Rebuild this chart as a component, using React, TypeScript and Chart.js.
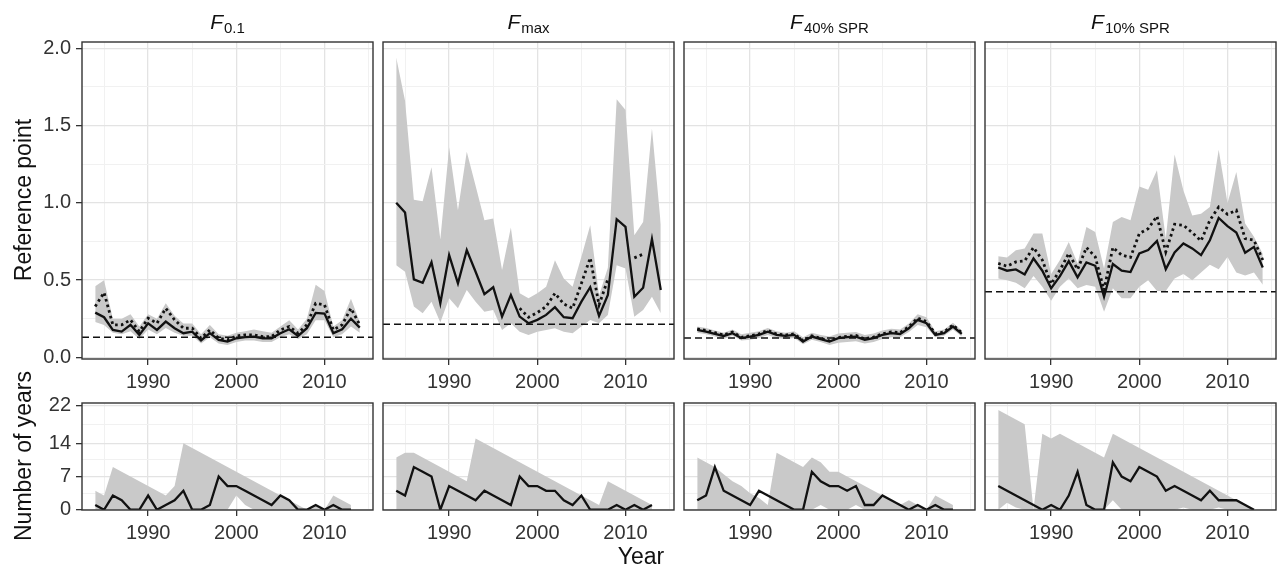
import React, { useEffect, useRef } from 'react';
import { Chart, registerables } from 'chart.js';

Chart.register(...registerables);

// ---------------- DATA ----------------
const YEARS = [1984, 1985, 1986, 1987, 1988, 1989, 1990, 1991, 1992, 1993, 1994, 1995, 1996, 1997, 1998, 1999, 2000, 2001, 2002, 2003, 2004, 2005, 2006, 2007, 2008, 2009, 2010, 2011, 2012, 2013, 2014];

const PANEL_TITLES = ['0.1', 'max', '40% SPR', '10% SPR'];

// Top row: reference point estimates
const F01_EST = [0.29, 0.26, 0.178, 0.167, 0.211, 0.146, 0.221, 0.178, 0.232, 0.189, 0.157, 0.167, 0.11, 0.157, 0.114, 0.103, 0.124, 0.131, 0.135, 0.124, 0.124, 0.157, 0.182, 0.139, 0.189, 0.288, 0.284, 0.157, 0.182, 0.251, 0.193];
const F01_ALT = [0.33, 0.42, 0.211, 0.211, 0.243, 0.167, 0.254, 0.221, 0.318, 0.243, 0.189, 0.189, 0.124, 0.178, 0.124, 0.114, 0.139, 0.146, 0.146, 0.135, 0.135, 0.178, 0.2, 0.157, 0.211, 0.35, 0.34, 0.178, 0.211, 0.318, 0.211];
const F01_HI = [0.46, 0.5, 0.25, 0.25, 0.28, 0.2, 0.28, 0.25, 0.35, 0.27, 0.22, 0.22, 0.15, 0.21, 0.15, 0.14, 0.16, 0.17, 0.18, 0.17, 0.16, 0.2, 0.24, 0.18, 0.25, 0.47, 0.43, 0.2, 0.24, 0.38, 0.23];
const F01_LO = [0.23, 0.21, 0.16, 0.15, 0.17, 0.12, 0.18, 0.15, 0.19, 0.16, 0.14, 0.14, 0.09, 0.13, 0.09, 0.08, 0.1, 0.11, 0.11, 0.1, 0.1, 0.13, 0.15, 0.12, 0.15, 0.24, 0.24, 0.13, 0.15, 0.2, 0.16];

const FMAX_EST = [1.0, 0.937, 0.505, 0.483, 0.615, 0.35, 0.662, 0.479, 0.694, 0.554, 0.41, 0.454, 0.264, 0.404, 0.264, 0.221, 0.243, 0.275, 0.325, 0.26, 0.254, 0.361, 0.454, 0.269, 0.404, 0.894, 0.844, 0.393, 0.451, 0.765, 0.436];
const FMAX_ALT = [null, null, null, null, null, null, null, null, null, null, null, null, null, null, 0.318, 0.26, 0.29, 0.329, 0.415, 0.346, 0.318, 0.479, 0.644, 0.34, 0.505, null, null, 0.644, 0.668, null, null];
const FMAX_HI = [1.94, 1.66, 1.02, 1.01, 1.23, 0.763, 1.36, 0.952, 1.33, 1.11, 0.887, 0.898, 0.565, 0.84, 0.415, 0.383, 0.415, 0.457, 0.629, 0.511, 0.457, 0.651, 0.855, 0.4, 0.58, 1.67, 1.6, 0.79, 0.876, 1.48, 0.86];
const FMAX_LO = [0.597, 0.554, 0.329, 0.286, 0.361, 0.226, 0.383, 0.318, 0.436, 0.361, 0.296, 0.307, 0.178, 0.221, 0.167, 0.146, 0.167, 0.178, 0.189, 0.167, 0.157, 0.2, 0.243, 0.221, 0.275, 0.597, 0.576, 0.264, 0.307, 0.393, 0.286];

const F40_EST = [0.178, 0.167, 0.152, 0.139, 0.157, 0.125, 0.135, 0.146, 0.167, 0.146, 0.139, 0.146, 0.103, 0.135, 0.118, 0.103, 0.125, 0.131, 0.135, 0.114, 0.125, 0.146, 0.157, 0.152, 0.189, 0.243, 0.221, 0.146, 0.157, 0.2, 0.152];
const F40_ALT = [0.185, 0.175, 0.16, 0.145, 0.165, 0.13, 0.14, 0.152, 0.175, 0.152, 0.145, 0.152, 0.108, 0.14, 0.123, 0.108, 0.13, 0.137, 0.142, 0.12, 0.132, 0.153, 0.165, 0.16, 0.198, 0.255, 0.232, 0.153, 0.165, 0.21, 0.16];
const F40_HI = [0.2, 0.19, 0.175, 0.16, 0.18, 0.15, 0.16, 0.17, 0.19, 0.17, 0.16, 0.17, 0.13, 0.16, 0.145, 0.135, 0.155, 0.16, 0.165, 0.145, 0.155, 0.175, 0.185, 0.18, 0.22, 0.28, 0.26, 0.17, 0.18, 0.225, 0.175];
const F40_LO = [0.16, 0.15, 0.135, 0.12, 0.14, 0.11, 0.115, 0.125, 0.145, 0.125, 0.12, 0.125, 0.085, 0.115, 0.1, 0.08, 0.095, 0.1, 0.105, 0.09, 0.1, 0.12, 0.13, 0.13, 0.165, 0.21, 0.195, 0.13, 0.14, 0.18, 0.135];

const F10_EST = [0.582, 0.561, 0.569, 0.537, 0.64, 0.561, 0.447, 0.526, 0.623, 0.518, 0.615, 0.593, 0.393, 0.604, 0.561, 0.552, 0.673, 0.694, 0.754, 0.571, 0.679, 0.737, 0.705, 0.662, 0.758, 0.902, 0.849, 0.808, 0.677, 0.715, 0.582];
const F10_ALT = [0.608, 0.59, 0.618, 0.625, 0.711, 0.63, 0.475, 0.565, 0.673, 0.569, 0.711, 0.651, 0.436, 0.711, 0.662, 0.647, 0.801, 0.833, 0.913, 0.683, 0.861, 0.855, 0.807, 0.754, 0.887, 0.973, 0.926, 0.952, 0.769, 0.758, 0.63];
const F10_HI = [0.655, 0.647, 0.694, 0.705, 0.801, 0.801, 0.54, 0.63, 0.746, 0.608, 0.844, 0.812, 0.575, 0.876, 0.908, 0.887, 1.106, 1.085, 1.21, 0.769, 1.312, 1.08, 0.918, 0.93, 0.973, 1.343, 0.999, 1.2, 0.866, 0.78, 0.67];
const F10_LO = [0.511, 0.5, 0.483, 0.447, 0.526, 0.457, 0.367, 0.457, 0.511, 0.447, 0.468, 0.457, 0.296, 0.447, 0.383, 0.383, 0.457, 0.5, 0.43, 0.43, 0.51, 0.54, 0.5, 0.55, 0.6, 0.57, 0.65, 0.55, 0.53, 0.55, 0.47];

const REF_LEVELS = [0.13, 0.215, 0.125, 0.425];

// Bottom row: number of years
const N01_EST = [1, 0, 3, 2, 0, 0, 3, 0, 1, 2, 4, 0, 0, 1, 7, 5, 5, 4, 3, 2, 1, 3, 2, 0, 0, 1, 0, 1, 0, 0, null];
const N01_HI = [4, 3, 9, 8, 7, 6, 5, 4, 3, 5, 14, 13, 12, 11, 10, 9, 8, 7, 6, 5, 4, 3, 2, 1, 0, 1, 0, 3, 2, 1, null];
const N01_LO = [0, 0, 0, 0, 0, 0, 0, 0, 0, 0, 0, 0, 0, 0, 0, 0, 3, 1, 0, 0, 0, 0, 0, 0, 0, 0, 0, 0, 0, 0, null];

const NMAX_EST = [4, 3, 9, 8, 7, 0, 5, 4, 3, 2, 4, 3, 2, 1, 7, 5, 5, 4, 4, 2, 1, 3, 0, 0, 0, 1, 0, 1, 0, 1, null];
const NMAX_HI = [11, 12, 12, 11, 10, 9, 8, 7, 6, 15, 14, 13, 12, 11, 10, 9, 8, 7, 6, 5, 4, 3, 2, 1, 6, 5, 4, 3, 2, 1, null];
const NMAX_LO = [0, 0, 0, 0, 0, 0, 0, 0, 0, 0, 0, 0, 0, 0, 0, 0, 0, 0, 0, 0, 0, 0, 0, 0, 0, 0, 0, 0, 0, 0, null];

const N40_EST = [2, 3, 9, 4, 3, 2, 1, 4, 3, 2, 1, 0, 0, 8, 6, 5, 5, 4, 5, 1, 1, 3, 2, 1, 0, 1, 0, 1, 0, 0, null];
const N40_HI = [11, 10, 9, 7.5, 6, 5, 3.5, 2.5, 1, 12, 11, 10, 9, 11, 10, 8, 8, 7, 6, 5, 4, 3, 2, 1, 2, 1, 0, 3, 2, 1, null];
const N40_LO = [0, 0, 0, 0, 0, 0, 0, 0, 0, 0, 0, 0, 0, 0, 1, 0, 0, 0, 1, 0, 0, 0, 0, 0, 0, 0, 0, 0, 0, 0, null];

const N10_EST = [5, 4, 3, 2, 1, 0, 1, 0, 3, 8, 1, 0, 0, 10, 7, 6, 9, 8, 7, 4, 5, 4, 3, 2, 4, 2, 2, 2, 1, 0, null];
const N10_HI = [21, 20, 19, 18, 0, 16, 15, 16, 15, 14, 13, 12, 11, 16, 15, 14, 13, 12, 11, 10, 9, 8, 7, 6, 5, 4, 3, 2, 1, 0, null];
const N10_LO = [0, 1.5, 0.5, 0, 0, 0, 0, 0, 0, 0, 0, 0, 0, 2, 0, 0, 0, 0, 0, 0, 0, 0.5, 0, 0, 0, 0.5, 0, 0, 0, 0, null];

// Axes
const X_MIN = 1982.5;
const X_MAX = 2015.5;
const X_TICKS = [1985, 1990, 1995, 2000, 2005, 2010, 2015];
const X_LABELS = [1990, 2000, 2010];
const Y_TOP_TICKS = [0, 0.25, 0.5, 0.75, 1, 1.25, 1.5, 1.75, 2];
const Y_TOP_LABELS = [0, 0.5, 1, 1.5, 2];
const Y_BOT_TICKS = [0, 3.5, 7, 10.5, 14, 18, 22];
const Y_BOT_LABELS = [0, 7, 14, 22];

// ---------------- LAYOUT ----------------
const FONT = '"Liberation Sans", Arial, Helvetica, sans-serif';
const COL_LEFT = [82, 383, 684, 985];
const COL_W = 291;
const ROW_TOP = [42, 403];
const ROW_BOTTOM = [359, 510];
const PAD_T = 20;
const PAD_R = 6;
const AX_H = 38;

const BAND = '#c9c9c9';
const LINE = '#111111';

const framePlugin = {
  id: 'frame',
  afterDraw(chart: any) {
    const { ctx, chartArea } = chart;
    ctx.save();
    ctx.strokeStyle = '#333333';
    ctx.lineWidth = 1.4;
    ctx.strokeRect(chartArea.left, chartArea.top, chartArea.right - chartArea.left, chartArea.bottom - chartArea.top);
    ctx.restore();
  },
};

type Spec = {
  row: number;
  col: number;
  est: (number | null)[];
  alt?: (number | null)[];
  hi: (number | null)[];
  lo: (number | null)[];
  ref?: number;
};

const pts = (arr: (number | null)[]) => YEARS.map((yr, i) => ({ x: yr, y: arr[i] }));

function Panel({ spec }: { spec: Spec }) {
  const cref = useRef<HTMLCanvasElement | null>(null);
  const yW = spec.col === 0 ? 82 : 6;
  const left = COL_LEFT[spec.col] - yW;
  const top = ROW_TOP[spec.row] - PAD_T;
  const width = yW + COL_W + PAD_R;
  const height = PAD_T + (ROW_BOTTOM[spec.row] - ROW_TOP[spec.row]) + AX_H;

  useEffect(() => {
    const isTop = spec.row === 0;
    const yTicks = isTop ? Y_TOP_TICKS : Y_BOT_TICKS;
    const yLabels = isTop ? Y_TOP_LABELS : Y_BOT_LABELS;
    const datasets: any[] = [];
    datasets.push({
      data: pts(spec.est), borderColor: LINE, borderWidth: 2.3, pointRadius: 0, fill: false, order: 0, tension: 0,
    });
    if (spec.alt) {
      datasets.push({
        data: pts(spec.alt), borderColor: LINE, borderWidth: 2.8, borderDash: [2.6, 3.2], borderCapStyle: 'butt',
        pointRadius: 0, fill: false, order: 1, tension: 0,
      });
    }
    if (spec.ref !== undefined) {
      datasets.push({
        data: [{ x: X_MIN, y: spec.ref }, { x: X_MAX, y: spec.ref }], borderColor: LINE, borderWidth: 1.5,
        borderDash: [7, 4], pointRadius: 0, fill: false, order: 2,
      });
    }
    datasets.push({ data: pts(spec.lo), borderWidth: 0, borderColor: 'rgba(0,0,0,0)', pointRadius: 0, fill: false, order: 4 });
    datasets.push({ data: pts(spec.hi), borderWidth: 0, borderColor: 'rgba(0,0,0,0)', backgroundColor: BAND, pointRadius: 0, fill: '-1', order: 3 });

    const chart = new Chart(cref.current as HTMLCanvasElement, {
      type: 'line',
      data: { datasets },
      options: {
        responsive: false,
        animation: false,
        devicePixelRatio: 1,
        events: [],
        layout: { padding: { top: PAD_T, right: PAD_R, left: 0, bottom: 0 } },
        plugins: { legend: { display: false }, tooltip: { enabled: false }, title: { display: false } },
        scales: {
          x: {
            type: 'linear',
            min: X_MIN,
            max: X_MAX,
            afterBuildTicks: (s: any) => { s.ticks = X_TICKS.map((v) => ({ value: v })); },
            afterFit: (s: any) => { s.height = AX_H; },
            border: { display: false },
            grid: {
              color: (c: any) => (X_LABELS.includes(c.tick?.value) ? '#e3e3e3' : '#f1f1f1'),
              lineWidth: (c: any) => (X_LABELS.includes(c.tick?.value) ? 1.3 : 1),
              tickColor: (c: any) => (X_LABELS.includes(c.tick?.value) ? '#333333' : 'rgba(0,0,0,0)'),
              tickLength: 6,
              tickWidth: 1.3,
              drawTicks: true,
            },
            ticks: {
              autoSkip: false,
              maxRotation: 0,
              padding: 5,
              color: '#333333',
              font: { family: FONT, size: 20 },
              callback: (v: any) => (X_LABELS.includes(v) ? String(v) : ''),
            },
          },
          y: {
            type: 'linear',
            min: isTop ? -0.01 : -0.05,
            max: isTop ? 2.04 : 22.5,
            afterBuildTicks: (s: any) => { s.ticks = yTicks.map((v) => ({ value: v })); },
            afterFit: (s: any) => { s.width = yW; },
            border: { display: false },
            grid: {
              color: (c: any) => (yLabels.includes(c.tick?.value) ? '#e3e3e3' : '#f1f1f1'),
              lineWidth: (c: any) => (yLabels.includes(c.tick?.value) ? 1.3 : 1),
              tickColor: (c: any) => (yLabels.includes(c.tick?.value) ? '#333333' : 'rgba(0,0,0,0)'),
              tickLength: 6,
              tickWidth: 1.3,
              drawTicks: spec.col === 0,
            },
            ticks: {
              display: spec.col === 0,
              autoSkip: false,
              padding: 5,
              color: '#333333',
              font: { family: FONT, size: 20 },
              callback: (v: any) => (yLabels.includes(v) ? (isTop ? Number(v).toFixed(1) : String(v)) : ''),
            },
          },
        },
      } as any,
      plugins: [framePlugin],
    });
    return () => chart.destroy();
  }, []);

  return (
    <canvas
      ref={cref}
      width={width}
      height={height}
      style={{ position: 'absolute', left, top, width, height }}
    />
  );
}

const SPECS: Spec[] = [
  { row: 0, col: 0, est: F01_EST, alt: F01_ALT, hi: F01_HI, lo: F01_LO, ref: REF_LEVELS[0] },
  { row: 0, col: 1, est: FMAX_EST, alt: FMAX_ALT, hi: FMAX_HI, lo: FMAX_LO, ref: REF_LEVELS[1] },
  { row: 0, col: 2, est: F40_EST, alt: F40_ALT, hi: F40_HI, lo: F40_LO, ref: REF_LEVELS[2] },
  { row: 0, col: 3, est: F10_EST, alt: F10_ALT, hi: F10_HI, lo: F10_LO, ref: REF_LEVELS[3] },
  { row: 1, col: 0, est: N01_EST, hi: N01_HI, lo: N01_LO },
  { row: 1, col: 1, est: NMAX_EST, hi: NMAX_HI, lo: NMAX_LO },
  { row: 1, col: 2, est: N40_EST, hi: N40_HI, lo: N40_LO },
  { row: 1, col: 3, est: N10_EST, hi: N10_HI, lo: N10_LO },
];

export default function App() {
  return (
    <div style={{ position: 'absolute', left: 0, top: 0, width: 1277, height: 570, overflow: 'hidden', background: '#ffffff', fontFamily: FONT }}>
      {SPECS.map((s, i) => <Panel key={i} spec={s} />)}
      {PANEL_TITLES.map((t, i) => (
        <div
          key={'t' + i}
          style={{
            position: 'absolute', left: COL_LEFT[i], top: 10, width: COL_W, textAlign: 'center',
            lineHeight: '24px', color: '#111', whiteSpace: 'nowrap',
          }}
        >
          <span style={{ fontStyle: 'italic', fontSize: 21 }}>F</span>
          <span style={{ fontSize: 15, position: 'relative', top: 4, marginLeft: 1 }}>{t}</span>
        </div>
      ))}
      <div style={{ position: 'absolute', left: 23, top: 200, transform: 'translate(-50%, -50%) rotate(-90deg)', fontSize: 23, lineHeight: '26px', whiteSpace: 'nowrap', color: '#111' }}>Reference point</div>
      <div style={{ position: 'absolute', left: 23, top: 456, transform: 'translate(-50%, -50%) rotate(-90deg)', fontSize: 23, lineHeight: '26px', whiteSpace: 'nowrap', color: '#111' }}>Number of years</div>
      <div style={{ position: 'absolute', left: 641, top: 556, transform: 'translate(-50%, -50%)', fontSize: 23, lineHeight: '26px', whiteSpace: 'nowrap', color: '#111' }}>Year</div>
    </div>
  );
}
